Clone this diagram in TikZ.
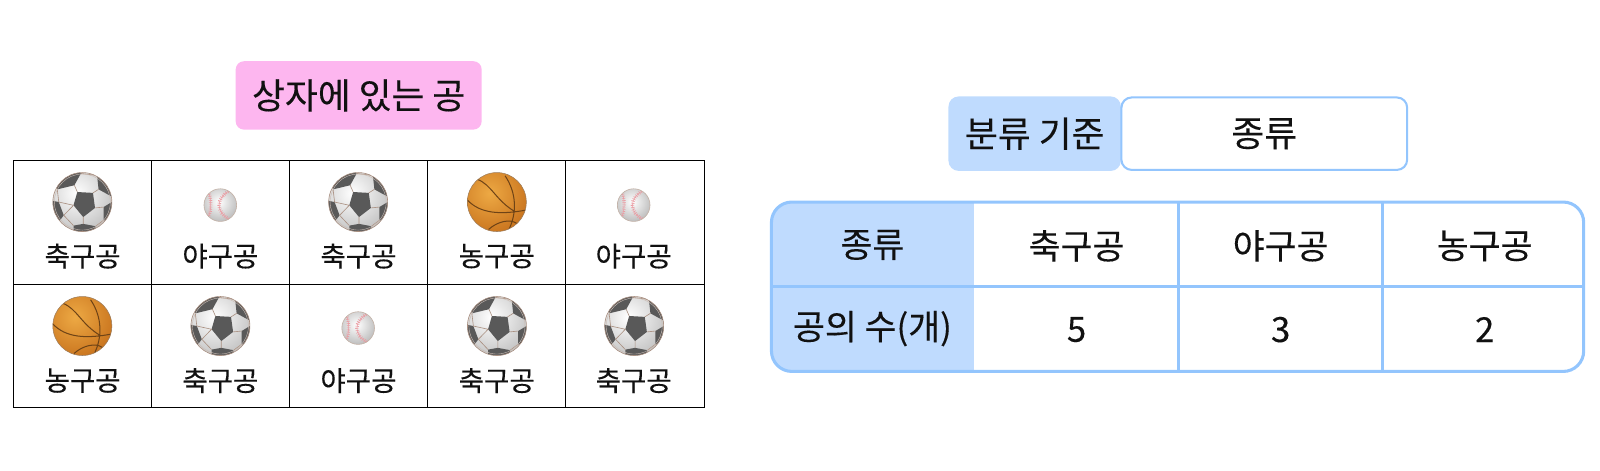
\documentclass[tikz,border=0pt]{standalone}
\usepackage{fontspec}
\setmainfont{Noto Sans CJK KR}[FakeBold=0.25]
\definecolor{blueFill}{HTML}{BFDBFE}
\definecolor{blueLine}{HTML}{93C5FD}
\definecolor{pinkFill}{HTML}{FDB6EF}
\definecolor{ink}{HTML}{111111}
\definecolor{patch}{HTML}{595959}
\definecolor{seam}{HTML}{A98F80}
\definecolor{orangeHi}{HTML}{EDA944}
\definecolor{orangeLo}{HTML}{C9741E}
\definecolor{brownLine}{HTML}{6E4316}
\definecolor{stitch}{HTML}{E2707A}
\newcommand\placeball[4]{\begin{scope}[shift={(#2,#3)},x=#4pt,y=-#4pt]\pic {#1};\end{scope}}
\tikzset{
  gridcell/.style={draw=black,line width=1pt,minimum width=135.4pt,minimum height=121.3pt,inner sep=0pt,outer sep=0pt},
  balltext/.style={font=\fontsize{27}{27}\selectfont,text=ink,inner sep=0pt,anchor=center},
  tabletext/.style={font=\fontsize{34}{34}\selectfont,text=ink,inner sep=0pt,anchor=center},
  headcell/.style={fill=blueFill,minimum width=199pt,inner sep=0pt,outer sep=0pt,minimum height=83pt},
  tline/.style={draw=blueLine,line width=3pt},
  soccerball/.pic={
    \begin{scope}
      \clip (0,0) circle (1);
      \shade[inner color=white,outer color=black!28] (-0.2,-0.3) circle (1.6);
      \fill[patch] (-0.17,-0.34)--(0.36,-0.31)--(0.43,0.2)--(0.03,0.51)--(-0.3,0.11)--cycle;
      \fill[patch] (-0.85,-0.43)--(-0.27,-0.57)--(-0.05,-0.97)--(-0.3,-1.2)--(-1.1,-1)--cycle;
      \fill[patch] (0.5,-0.9)--(0.55,-0.43)--(0.97,-0.2)--(1.1,-0.6)--(0.7,-1.1)--cycle;
      \fill[patch] (-1.1,-0.06)--(-0.8,0)--(-0.63,0.45)--(-0.85,0.74)--(-1.1,0.6)--cycle;
      \fill[patch] (0.72,0.17)--(1.1,-0.06)--(1.1,0.6)--(0.72,0.62)--cycle;
      \fill[patch] (-0.3,0.8)--(0.03,0.74)--(0.45,0.82)--(0.4,1.1)--(-0.3,1.1)--cycle;
      \draw[seam,line width=0.6pt]
        (-0.17,-0.34)--(-0.27,-0.57) (0.36,-0.31)--(0.55,-0.43)
        (0.43,0.2)--(0.72,0.17) (0.03,0.51)--(0.03,0.74) (-0.3,0.11)--(-0.63,0.45)
        (-0.8,0)--(-0.3,0.11) (-0.85,-0.43)--(-0.8,0)
        (0.72,0.62)--(0.45,0.82) (-0.63,0.45)--(-0.3,0.8)
        (-0.05,-0.97)--(0.5,-0.9);
    \end{scope}
    \draw[seam,line width=0.6pt] (0,0) circle (1);
    \draw[seam!60,line width=0.4pt] (0,0) circle (0.95);
  },
  baseball/.pic={
    \begin{scope}
      \clip (0,0) circle (1);
      \shade[inner color=white,outer color=black!30] (-0.1,-0.2) circle (1.4);
      \draw[stitch!70,line width=3.4pt,dash pattern=on 0.6pt off 1.5pt]
        (-0.68,-0.68) .. controls (-0.55,-0.3) and (-0.55,0.3) .. (-0.72,0.7)
        (0.6,-0.9) .. controls (-0.3,-0.45) and (-0.3,0.45) .. (0.6,0.9);
      \draw[stitch!70,line width=0.5pt]
        (-0.68,-0.68) .. controls (-0.55,-0.3) and (-0.55,0.3) .. (-0.72,0.7)
        (0.6,-0.9) .. controls (-0.3,-0.45) and (-0.3,0.45) .. (0.6,0.9);
    \end{scope}
    \draw[seam!70,line width=0.6pt] (0,0) circle (1);
  },
  basketball/.pic={
    \begin{scope}
      \clip (0,0) circle (1);
      \shade[inner color=orangeHi,outer color=orangeLo] (-0.25,-0.3) circle (1.4);
      \draw[brownLine,line width=1pt]
        (-0.66,-0.77) .. controls (-0.17,-0.58) and (-0.05,-0.07) .. (0.62,0.33)
        (-1,-0.07) .. controls (-0.57,0.39) and (0.11,0.44) .. (1,0.27)
        (0.28,-0.89) .. controls (0.68,-0.3) and (0.68,0.39) .. (0.4,0.95)
        (-0.28,0.93) .. controls (0,0.67) and (0.45,0.55) .. (0.68,0.73);
    \end{scope}
    \draw[brownLine!70,line width=0.5pt] (0,0) circle (1);
  },
}
\begin{document}
\begin{tikzpicture}[x=1pt,y=-1pt]
\useasboundingbox (0,0) rectangle (1568,460.6);
% title
\node[fill=pinkFill,rounded corners=8pt,minimum width=241pt,minimum height=67pt,inner sep=0pt] (title) at (351.5,93.5) {\fontsize{35}{35}\selectfont\color{ink}상자에 있는 공};
% grid
\foreach \n/\cx/\cy in {a1/81/218,a2/216/218,a3/351.3/218,a4/486.8/218,a5/622.3/218,
                        b1/81/339,b2/216/339,b3/351.3/339,b4/486.8/339,b5/622.3/339}
  \node[gridcell] (\n) at (\cx,\cy) {};
% balls
\placeball{soccerball}{80.7}{198}{28.9}
\placeball{baseball}{215.9}{201}{16}
\placeball{soccerball}{351}{198}{28.9}
\placeball{basketball}{486.9}{198}{28.9}
\placeball{baseball}{621}{201}{16}
\placeball{basketball}{80.7}{319.5}{28.9}
\placeball{soccerball}{216}{319.5}{28.9}
\placeball{baseball}{351}{321.5}{16}
\placeball{soccerball}{487}{319.5}{28.9}
\placeball{soccerball}{621.5}{319.5}{28.9}
% ball labels
\foreach \n/\cx/\cy/\t in {la1/81/251/축구공,la2/216/251/야구공,la3/351.3/251/축구공,la4/486.8/251/농구공,la5/621/251/야구공,
                           lb1/81/373/농구공,lb2/216/373/축구공,lb3/351.3/373/야구공,lb4/486.8/373/축구공,lb5/621/373/축구공}
  \node[balltext] (\n) at (\cx,\cy) {\t};
% criterion
\node[fill=blueFill,rounded corners=10pt,minimum width=169pt,minimum height=73pt,inner sep=0pt,text=ink,font=\fontsize{35}{35}\selectfont] (crit) at (1014,131) {분류 기준};
\node[draw=blueLine,line width=2pt,fill=white,rounded corners=10pt,minimum width=280pt,minimum height=71pt,inner sep=0pt,text=ink,font=\fontsize{35}{35}\selectfont] (critv) at (1239,131) {종류};
% table
\begin{scope}
  \clip[rounded corners=20pt] (756,198) rectangle (1552,364);
  \node[headcell] (h1) at (855,239.5) {};
  \node[headcell] (h2) at (855,322.5) {};
\end{scope}
\node[tabletext] (t11) at (855,240) {종류};
\node[tabletext] (t12) at (1055,241) {축구공};
\node[tabletext] (t13) at (1255,241) {야구공};
\node[tabletext] (t14) at (1455,241) {농구공};
\node[tabletext] (t21) at (855,322) {공의 수(개)};
\node[tabletext] (t22) at (1055,323) {5};
\node[tabletext] (t23) at (1255,323) {3};
\node[tabletext] (t24) at (1455,323) {2};
\draw[tline] (756,281) -- (1552,281);
\draw[tline] (1155,198) -- (1155,364) (1354.5,198) -- (1354.5,364);
\draw[tline,rounded corners=20pt] (756,198) rectangle (1552,364);
\end{tikzpicture}
\end{document}
